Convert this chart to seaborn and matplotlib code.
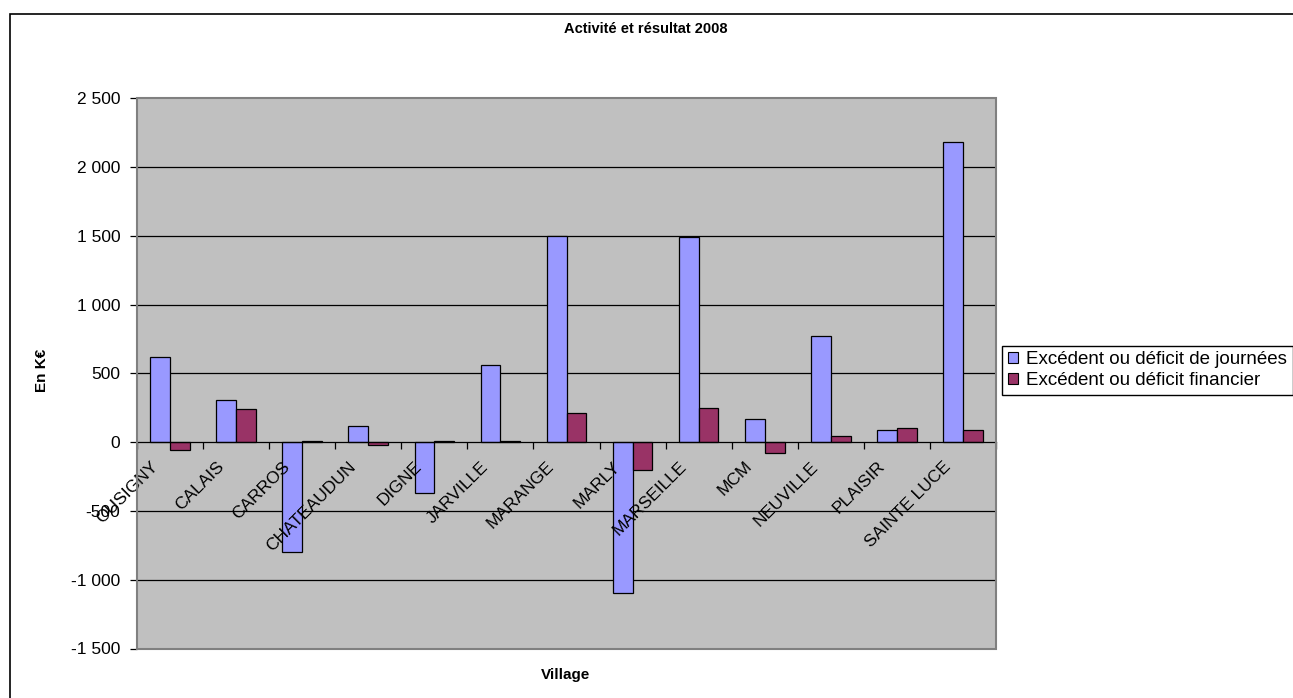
import seaborn as sns
import matplotlib.pyplot as plt
import matplotlib.patches as mpatches
from matplotlib.ticker import FuncFormatter
from matplotlib.transforms import ScaledTranslation
import pandas as pd

villages = ['OUSIGNY', 'CALAIS', 'CARROS', 'CHATEAUDUN', 'DIGNE', 'JARVILLE', 'MARANGE',
            'MARLY', 'MARSEILLE', 'MCM', 'NEUVILLE', 'PLAISIR', 'SAINTE LUCE']
journees = [620, 310, -800, 115, -370, 560, 1500, -1100, 1490, 165, 770, 90, 2180]
financier = [-60, 240, 8, -20, 12, 10, 215, -205, 250, -80, 45, 105, 90]
series = ['Excédent ou déficit de journées', 'Excédent ou déficit financier']
colors = ['#9999FF', '#993366']

df = pd.DataFrame({'Village': villages, series[0]: journees, series[1]: financier})
df_melted = pd.melt(df, id_vars=['Village'], var_name='Serie', value_name='Valeur')

plt.rcParams['font.family'] = ['Liberation Sans', 'DejaVu Sans']

fig = plt.figure(figsize=(12.93, 6.98), dpi=100)
ax = fig.add_axes([137 / 1293, 1 - 648.5 / 698, (996 - 137) / 1293, (648.5 - 98.3) / 698])
ax.set_facecolor('#C0C0C0')

sns.barplot(data=df_melted, x='Village', y='Valeur', hue='Serie', palette=colors, saturation=1,
            width=0.6, edgecolor='black', linewidth=0.9, ax=ax, legend=False)

# axe des catégories sur le zéro (avant de régler les ticks, set_position les remet à zéro)
ax.spines['bottom'].set_position(('data', 0))
ax.spines['bottom'].set_color('black')
ax.spines['bottom'].set_linewidth(0.9)
ax.spines['left'].set_color('#404040')
ax.spines['left'].set_linewidth(1.2)
for s in ['top', 'right']:
    ax.spines[s].set_color('#808080')
    ax.spines[s].set_linewidth(1.2)
ax.add_patch(mpatches.Rectangle((0, 0), 1, 1, transform=ax.transAxes, fill=False,
                                edgecolor='#808080', lw=1.5, zorder=3, clip_on=False))

# gridlines sous les barres
ax.set_ylim(-1500, 2500)
yt = list(range(-1500, 2501, 500))
ax.set_yticks(yt)
for v in yt:
    if v not in (0, -1500, 2500):
        ax.axhline(v, color='black', lw=0.9, zorder=0.5)
ax.yaxis.set_major_formatter(FuncFormatter(lambda v, p: f'{int(v):,}'.replace(',', ' ')))

n = len(villages)
ax.set_xlim(-0.5, n - 0.5)
ax.set_xticks(range(n))
ax.set_xticklabels(villages, rotation=45, ha='right', va='top', rotation_mode='anchor')
ax.set_xticks([i - 0.5 for i in range(n + 1)], minor=True)
ax.tick_params(axis='x', which='major', length=0, pad=12, labelsize=12.5)
ax.tick_params(axis='x', which='minor', length=5, direction='out', width=0.9)
ax.tick_params(axis='y', length=5, direction='out', width=0.9, pad=7, labelsize=12.5, colors='black')
shift = ScaledTranslation(-20 / 100, 0, fig.dpi_scale_trans)
for lab in ax.get_xticklabels():
    lab.set_transform(lab.get_transform() + shift)

ax.set_xlabel('')
ax.set_ylabel('')
fig.text(566 / 1293, 1 - 675 / 698, 'Village', ha='center', va='center', fontsize=11, fontweight='bold')
fig.text(42 / 1293, 1 - 370 / 698, 'En K€', ha='center', va='center', rotation=90,
         fontsize=11, fontweight='bold')
fig.text(646 / 1293, 1 - 29 / 698, 'Activité et résultat 2008', ha='center', va='center',
         fontsize=10.5, fontweight='bold')

handles = [mpatches.Patch(facecolor=c, edgecolor='black', lw=0.8) for c in colors]
leg = fig.legend(handles, series, loc='upper left', bbox_to_anchor=(1002 / 1293, 1 - 345.5 / 698),
                 fontsize=13.5, frameon=True, fancybox=False, edgecolor='black', framealpha=1,
                 handlelength=0.55, handleheight=0.55, handletextpad=0.45, labelspacing=0.22,
                 borderpad=0.3, borderaxespad=0)
leg.get_frame().set_linewidth(1)

fig.add_artist(mpatches.Rectangle((10 / 1293, -0.1), 2, 1 - 14 / 698 + 0.1,
                                  transform=fig.transFigure, fill=False, edgecolor='black', lw=1.2))

plt.savefig('out.png', dpi=100)
